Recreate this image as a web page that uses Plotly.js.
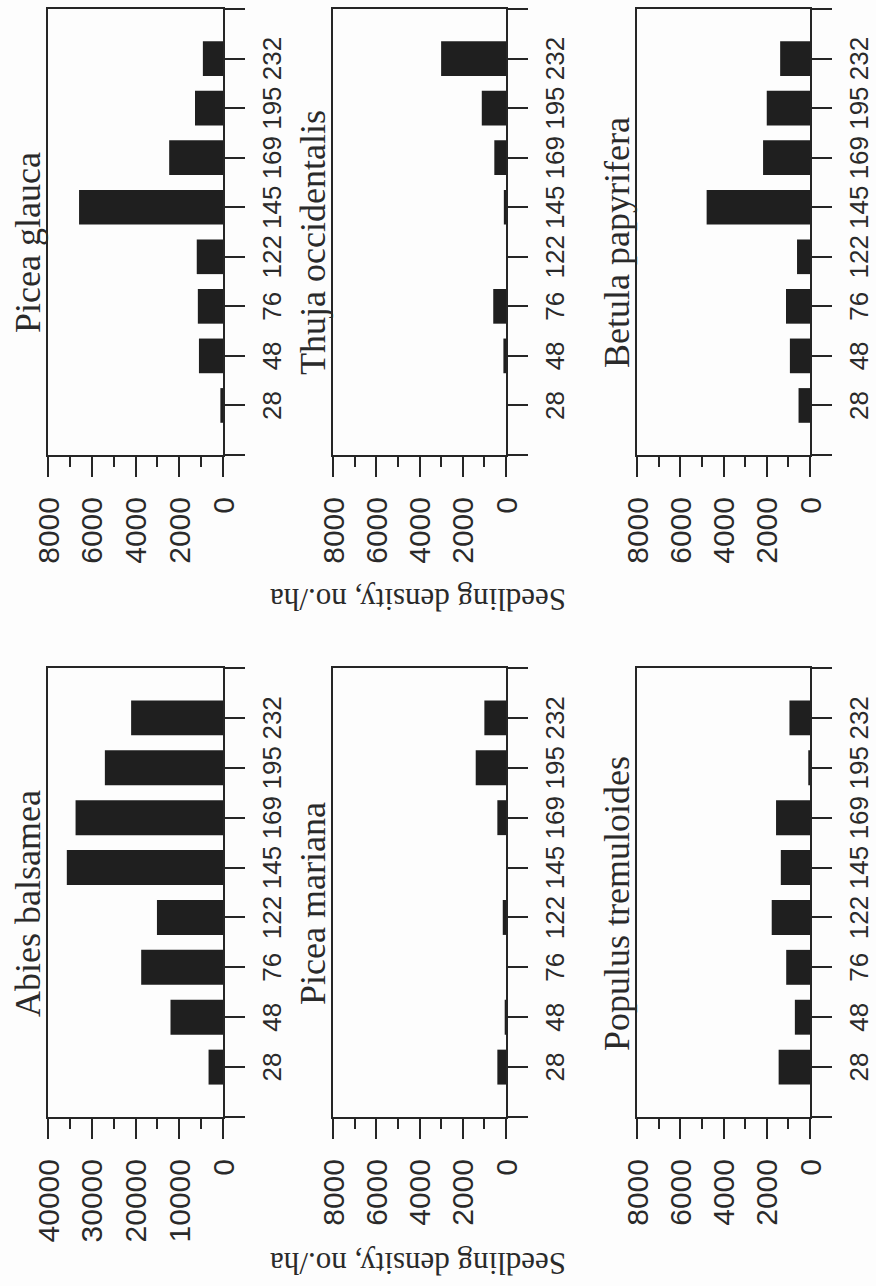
<!DOCTYPE html>
<html><head><meta charset="utf-8">
<script src="https://cdn.plot.ly/plotly-3.0.1.min.js"></script>
<style>
html,body{margin:0;padding:0;background:#fdfdfd;overflow:hidden;width:876px;height:1286px;}
#wrap{position:absolute;left:0;top:0;width:1286px;height:876px;transform-origin:0 0;transform:translateY(1286px) rotate(-90deg);}
</style></head><body><div id="wrap"></div>
<script>
// Stand age / site categories (x) and seedling density (no./ha) per species
const categories = ['28','48','76','122','145','169','195','232'];
const abiesBalsamea = [3300, 12000, 18700, 15100, 35700, 33700, 27000, 21000];
const piceaMariana = [400, 60, 0, 150, 0, 400, 1400, 1000];
const populusTremuloides = [1450, 700, 1100, 1770, 1350, 1570, 80, 950];
const piceaGlauca = [120, 1100, 1150, 1200, 6580, 2460, 1280, 920];
const thujaOccidentalis = [0, 120, 590, 0, 100, 540, 1120, 3000];
const betulaPapyrifera = [530, 930, 1110, 600, 4780, 2170, 2000, 1380];
const speciesNames = ['Abies balsamea', 'Picea mariana', 'Populus tremuloides',
                      'Picea glauca', 'Thuja occidentalis', 'Betula papyrifera'];
const valueMax = [40000, 8000, 8000, 8000, 8000, 8000];
const valueAxisTitle = 'Seedling density, no./ha';

const seriesList = [abiesBalsamea, piceaMariana, populusTremuloides,
                    piceaGlauca, thujaOccidentalis, betulaPapyrifera];

// layout geometry (figure is drawn landscape, then the page rotates it)
const W = 1286, H = 876;
const colX = [[169, 618], [831, 1277]];
const rowY = [[48, 223], [333, 506], [637, 810]];
const titleX = [382, 1043];
const yTitleX = [22, 686];
const LC = '#262626', TC = '#2a2a2a', BAR = '#1f1f1f';
const sans = 'Liberation Sans, Arial, sans-serif';
const serif = 'Liberation Serif, Times New Roman, serif';

const idx = categories.map((c, i) => i);
const tickVals = [-1].concat(idx, [categories.length]);
const tickText = [''].concat(categories, ['']);

const data = [];
const layout = {
  width: W, height: H,
  margin: {l: 0, r: 0, t: 0, b: 0},
  paper_bgcolor: '#fdfdfd', plot_bgcolor: 'rgba(0,0,0,0)',
  showlegend: false, bargap: 0.3,
  annotations: []
};

seriesList.forEach((vals, i) => {
  const col = i < 3 ? 0 : 1, row = i % 3;
  const s = i === 0 ? '' : String(i + 1);
  data.push({
    type: 'bar', x: idx, y: vals, xaxis: 'x' + s, yaxis: 'y' + s,
    width: 0.7, marker: {color: BAR, line: {width: 0}}, hoverinfo: 'skip'
  });
  layout['xaxis' + s] = {
    domain: [colX[col][0] / W, colX[col][1] / W], anchor: 'y' + s,
    range: [-1, categories.length], tickmode: 'array',
    tickvals: tickVals, ticktext: tickText, tickangle: 0,
    ticks: 'outside', ticklen: 20, tickwidth: 2, tickcolor: LC,
    showline: true, linewidth: 2, linecolor: LC, mirror: true,
    showgrid: false, zeroline: false, ticklabelstandoff: 5,
    tickfont: {family: sans, size: 26, color: TC}
  };
  const mx = valueMax[i];
  layout['yaxis' + s] = {
    domain: [1 - rowY[row][1] / H, 1 - rowY[row][0] / H], anchor: 'x' + s,
    range: [0, mx], tick0: 0, dtick: mx / 4, tickformat: 'd', tickangle: 0,
    ticks: 'outside', ticklen: 20, tickwidth: 2, tickcolor: LC,
    minor: {dtick: mx / 8, tick0: 0, ticks: 'outside', ticklen: 10, tickwidth: 2, tickcolor: LC, showgrid: false},
    showline: true, linewidth: 2, linecolor: LC, mirror: true,
    showgrid: false, zeroline: false, ticklabelstandoff: 14,
    tickfont: {family: sans, size: 30, color: TC}
  };
  layout.annotations.push({
    text: speciesNames[i], xref: 'paper', yref: 'paper',
    x: titleX[col] / W, y: 1 - (rowY[row][0] - 20) / H,
    xanchor: 'center', yanchor: 'middle', showarrow: false,
    font: {family: serif, size: 36, color: TC}
  });
});

[0, 1].forEach(col => {
  layout.annotations.push({
    text: valueAxisTitle, xref: 'paper', yref: 'paper',
    x: yTitleX[col] / W, y: 1 - 418 / H, textangle: -90,
    xanchor: 'center', yanchor: 'middle', showarrow: false,
    font: {family: serif, size: 31, color: TC}
  });
});

Plotly.newPlot('wrap', data, layout, {displayModeBar: false, staticPlot: true});
</script></body></html>
